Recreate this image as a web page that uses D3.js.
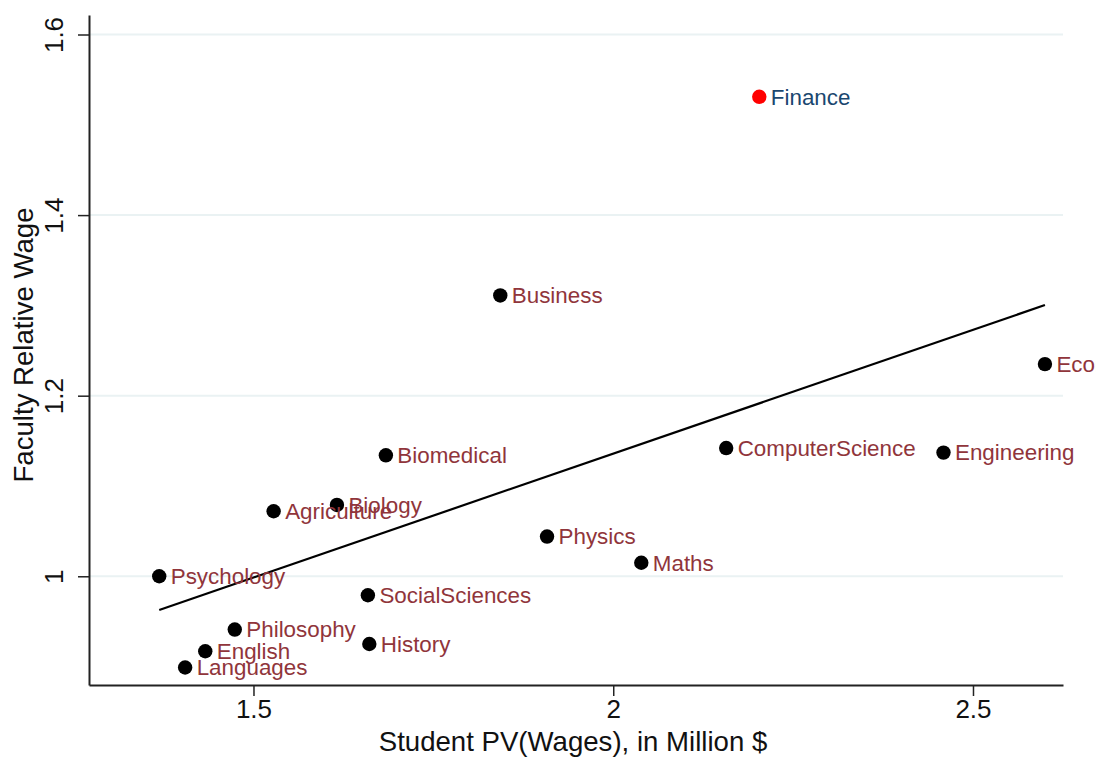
<!DOCTYPE html>
<html>
<head>
<meta charset="utf-8">
<script src="https://cdn.jsdelivr.net/npm/d3@7"></script>
<style>
  html, body { margin: 0; padding: 0; background: #fff; overflow: hidden; }
  svg { display: block; font-family: Arial, "Liberation Sans", sans-serif; }
</style>
</head>
<body>
<svg id="chart" width="1096" height="760"></svg>
<script>
// Fields of study
const fields = ["Finance", "Business", "Economics", "ComputerScience", "Engineering",
  "Biomedical", "Biology", "Agriculture", "Physics", "Maths", "Psychology",
  "SocialSciences", "Philosophy", "History", "English", "Languages"];
// Student present value of wages, million $
const studentPV = [2.203, 1.843, 2.600, 2.157, 2.459, 1.684, 1.616, 1.528, 1.908,
  2.039, 1.369, 1.659, 1.474, 1.661, 1.433, 1.405];
// Faculty relative wage
const facultyWage = [1.531, 1.311, 1.235, 1.142, 1.137, 1.134, 1.079, 1.072, 1.044,
  1.015, 1.000, 0.979, 0.941, 0.925, 0.917, 0.899];
// Highlighted field
const highlight = ["Finance"];

// Linear fit endpoints
const fitX = [1.369, 2.600];
const fitY = [0.9627, 1.3004];

// Axis ticks
const xTicks = [1.5, 2, 2.5];
const xTickLabels = ["1.5", "2", "2.5"];
const yTicks = [1, 1.2, 1.4, 1.6];
const yTickLabels = ["1", "1.2", "1.4", "1.6"];

const W = 1096, H = 760;
const margin = { top: 15, right: 33, bottom: 75, left: 89 };
const svg = d3.select("#chart");

const x = d3.scaleLinear().domain([1.2714, 2.6251]).range([margin.left, W - margin.right]);
const y = d3.scaleLinear().domain([0.8796, 1.6216]).range([H - margin.bottom, margin.top]);

// Gridlines
svg.append("g").selectAll("line").data(yTicks).join("line")
  .attr("x1", margin.left).attr("x2", W - margin.right)
  .attr("y1", d => y(d)).attr("y2", d => y(d))
  .attr("stroke", "#eaf2f3").attr("stroke-width", 2);

// Axes
const xAxis = d3.axisBottom(x).tickValues(xTicks)
  .tickFormat((d, i) => xTickLabels[i]).tickSize(11).tickSizeOuter(0).tickPadding(4);
const gx = svg.append("g").attr("transform", `translate(0,${H - margin.bottom})`).call(xAxis);
gx.select(".domain").attr("stroke", "#222").attr("stroke-width", 2);
gx.selectAll(".tick line").attr("stroke", "#222").attr("stroke-width", 1.5);
gx.selectAll(".tick text").attr("font-size", 26).attr("fill", "#111")
  .attr("font-family", "Arial, 'Liberation Sans', sans-serif");

const yAxis = d3.axisLeft(y).tickValues(yTicks)
  .tickFormat((d, i) => yTickLabels[i]).tickSize(11).tickSizeOuter(0);
const gy = svg.append("g").attr("transform", `translate(${margin.left},0)`).call(yAxis);
gy.select(".domain").attr("stroke", "#222").attr("stroke-width", 2);
gy.selectAll(".tick line").attr("stroke", "#222").attr("stroke-width", 1.5);
gy.selectAll(".tick text")
  .attr("x", null).attr("dy", null)
  .attr("transform", "translate(-26,0) rotate(-90)")
  .attr("text-anchor", "middle")
  .attr("font-size", 26).attr("fill", "#111")
  .attr("font-family", "Arial, 'Liberation Sans', sans-serif");

// Axis titles
svg.append("text")
  .attr("x", 573).attr("y", 751)
  .attr("text-anchor", "middle").attr("font-size", 27.6).attr("fill", "#111")
  .text("Student PV(Wages), in Million $");
svg.append("text")
  .attr("transform", `translate(33,${(margin.top + H - margin.bottom) / 2 - 5}) rotate(-90)`)
  .attr("text-anchor", "middle").attr("font-size", 27.6).attr("fill", "#111")
  .text("Faculty Relative Wage");

// Fitted line
const fit = fitX.map((v, i) => [v, fitY[i]]);
svg.append("path").datum(fit)
  .attr("d", d3.line().x(d => x(d[0])).y(d => y(d[1])))
  .attr("stroke", "#000").attr("stroke-width", 2.2).attr("fill", "none");

// Points with labels
const pts = fields.map((f, i) => ({ f, px: studentPV[i], py: facultyWage[i], hi: highlight.includes(f) }));
const g = svg.append("g");
g.selectAll("circle").data(pts).join("circle")
  .attr("cx", d => x(d.px)).attr("cy", d => y(d.py)).attr("r", 7.2)
  .attr("fill", d => d.hi ? "#ff0000" : "#000");
g.selectAll("text").data(pts).join("text")
  .attr("x", d => x(d.px) + 11.5).attr("y", d => y(d.py) + 7.9)
  .attr("font-size", 22.4)
  .attr("fill", d => d.hi ? "#1a476f" : "#90353b")
  .text(d => d.f);
</script>
</body>
</html>
